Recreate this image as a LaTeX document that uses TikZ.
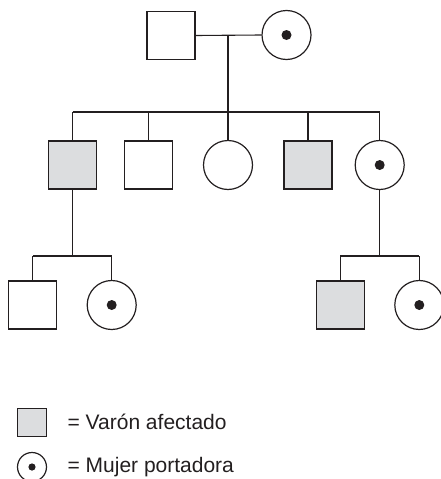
\documentclass[tikz,border=0pt]{standalone}
\usepackage{fontspec}
\setmainfont{Liberation Sans}
\definecolor{aff}{RGB}{220,221,223}
\definecolor{ink}{RGB}{35,31,32}
\begin{document}
\begin{tikzpicture}[x=1pt,y=-1pt, line width=1.2pt, draw=ink,
 male/.style={draw=ink, rectangle, minimum size=48pt, inner sep=0pt},
 female/.style={draw=ink, circle, minimum size=49pt, inner sep=0pt},
 affected/.style={fill=aff},
 carrier/.style={path picture={\fill[ink] (path picture bounding box.center) circle (5pt);}},
 smallcarrier/.style={path picture={\fill[ink] (path picture bounding box.center) circle (3.6pt);}},
 link/.style={draw=ink, line width=1.1pt},
 lbl/.style={anchor=base west, inner sep=0pt, text=ink, font=\fontsize{21}{25}\selectfont}]
\useasboundingbox (0,0) rectangle (441,479);
\clip (0,0) rectangle (441,479);
% generation I
\node[male] (f) at (171,35.5) {};
\node[female, carrier] (m) at (286.5,35) {};
\coordinate (mar) at (228,35);
\coordinate (sib) at (228,112);
\draw[link] (f.east) -- (m.west);
\draw[link] (mar) -- (sib);
% generation II
\node[male, affected] (c1) at (72.5,165) {};
\node[male] (c2) at (148.3,165) {};
\node[female] (c3) at (228,165) {};
\node[male, affected] (c4) at (308,165) {};
\node[female, carrier] (c5) at (379.7,165) {};
\coordinate (s1) at (72.5,112);
\coordinate (s2) at (148.3,112);
\coordinate (s3) at (228,112);
\coordinate (s4) at (308,112);
\coordinate (s5) at (379.7,112);
\draw[link] (s1) -- (s5);
\foreach \i in {1,...,5} {\draw[link] (s\i) -- (c\i.north);}
% generation III left
\node[male] (g1) at (32.8,305) {};
\node[female, carrier] (g2) at (111.7,305) {};
\coordinate (l0) at (72.5,256);
\coordinate (l1) at (32.8,256);
\coordinate (l2) at (111.7,256);
\draw[link] (c1.south) -- (l0);
\draw[link] (l1) -- (l2);
\draw[link] (l1) -- (g1.north);
\draw[link] (l2) -- (g2.north);
% generation III right
\node[male, affected] (g3) at (340.3,305) {};
\node[female, carrier] (g4) at (419.3,305) {};
\coordinate (r0) at (379.7,256);
\coordinate (r1) at (340.3,256);
\coordinate (r2) at (419.3,256);
\draw[link] (c5.south) -- (r0);
\draw[link] (r1) -- (r2);
\draw[link] (r1) -- (g3.north);
\draw[link] (r2) -- (g4.north);
% legend
\node[draw=ink, rectangle, affected, minimum width=29pt, minimum height=28pt, inner sep=0pt] (k1) at (32,422.5) {};
\node[draw=ink, circle, smallcarrier, minimum size=29pt, inner sep=0pt] (k2) at (32,467) {};
\node[lbl] (t1) at (67,429) {= Varón afectado};
\node[lbl] (t2) at (67,472) {= Mujer portadora};
\end{tikzpicture}
\end{document}
